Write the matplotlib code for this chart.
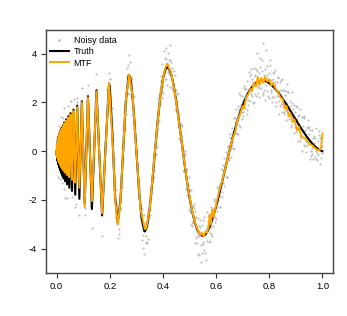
import matplotlib
matplotlib.use("Agg")
import matplotlib.pyplot as plt

plt.rcParams["font.family"] = ["Liberation Sans", "DejaVu Sans"]
plt.rcParams["axes.unicode_minus"] = False

# noisy observations, fast-oscillating part (x < 0.2)
noisy_x_left = [
    0.0, .0012, .0025, .0032, .0046, .006, .0075, .0092, .0109, .0127, .0146, .0167,
    .0189, .02, .0206, .0212, .0218, .0237, .0243, .0257, .0264, .0285, .0293, .0316,
    .0324, .034, .0349, .0357, .0384, .0394, .0413, .0423, .0433, .0466, .0477, .05,
    .0512, .0524, .053, .0564, .0577, .0605, .062, .0635, .064, .0683, .07, .071,
    .0735, .0754, .0773, .078, .0834, .0855, .086, .09, .0924, .0948, .096, .1028,
    .1056, .107, .1115, .1147, .118, .119, .123, .1288, .1326, .134, .138, .1409,
    .1454, .15, .151, .156, .16, .1655, .1711, .172, .178, .1833, .1902, .196, .1971,
]
noisy_y_left = [
    0.3, -0.45, 0.6, -0.29, 0.17, -1.04, 1.05, -0.47, 0.08, -1.13, 1.39, -0.75,
    0.55, 0.7, -1.0, -0.51, -1.3, 1.36, 0.55, -0.14, -1.57, 0.93, 1.78, -1.13,
    -1.94, -0.55, 1.32, 0.95, -0.76, -1.91, 0.45, 1.85, 1.48, -1.5, -1.19, -0.3,
    0.9, 2.06, 2.05, -1.9, -1.48, 0.7, 1.6, 1.11, 2.15, -1.01, -2.29, -2.15,
    -0.6, 2.02, 1.72, 2.2, -1.78, -2.61, -1.6, 0.25, 1.8, 2.6, 1.55, -1.82,
    -2.35, -2.6, -0.45, 2.05, 1.76, 2.7, 0.6, -2.23, -3.17, -1.95, -0.8, 0.5,
    1.97, 3.15, 2.15, 0.8, -0.2, -2.16, -3.49, -2.2, -0.8, 0.35, 2.52, 2.23, 3.19,
]

# noisy observations, x >= 0.2 (first pass)
noisy_x_right = [
    .2000, .2025, .2050, .2075, .2100, .2125, .2150, .2175, .2200, .2225, .2250, .2275,
    .2300, .2325, .2350, .2375, .2400, .2425, .2450, .2475, .2500, .2525, .2550, .2575,
    .2600, .2625, .2650, .2675, .2700, .2725, .2750, .2775, .2800, .2825, .2850, .2875,
    .2900, .2925, .2950, .2975, .3000, .3025, .3050, .3075, .3100, .3125, .3150, .3175,
    .3200, .3225, .3250, .3275, .3300, .3325, .3350, .3375, .3400, .3425, .3450, .3475,
    .3500, .3525, .3550, .3575, .3600, .3625, .3650, .3675, .3700, .3725, .3750, .3775,
    .3800, .3825, .3850, .3875, .3900, .3925, .3950, .3975, .4000, .4025, .4050, .4075,
    .4100, .4125, .4150, .4175, .4200, .4225, .4250, .4275, .4300, .4325, .4350, .4375,
    .4400, .4425, .4450, .4475, .4500, .4525, .4550, .4575, .4600, .4625, .4650, .4675,
    .4700, .4725, .4750, .4775, .4800, .4825, .4850, .4875, .4900, .4925, .4950, .4975,
    .5000, .5025, .5050, .5075, .5100, .5125, .5150, .5175, .5200, .5225, .5250, .5275,
    .5300, .5325, .5350, .5375, .5400, .5425, .5450, .5475, .5500, .5525, .5550, .5575,
    .5600, .5625, .5650, .5675, .5700, .5725, .5750, .5775, .5800, .5825, .5850, .5875,
    .5900, .5925, .5950, .5975, .6000, .6025, .6050, .6075, .6100, .6125, .6150, .6175,
    .6200, .6225, .6250, .6275, .6300, .6325, .6350, .6375, .6400, .6425, .6450, .6475,
    .6500, .6525, .6550, .6575, .6600, .6625, .6650, .6675, .6700, .6725, .6750, .6775,
    .6800, .6825, .6850, .6875, .6900, .6925, .6950, .6975, .7000, .7025, .7050, .7075,
    .7100, .7125, .7150, .7175, .7200, .7225, .7250, .7275, .7300, .7325, .7350, .7375,
    .7400, .7425, .7450, .7475, .7500, .7525, .7550, .7575, .7600, .7625, .7650, .7675,
    .7700, .7725, .7750, .7775, .7800, .7825, .7850, .7875, .7900, .7925, .7950, .7975,
    .8000, .8025, .8050, .8075, .8100, .8125, .8150, .8175, .8200, .8225, .8250, .8275,
    .8300, .8325, .8350, .8375, .8400, .8425, .8450, .8475, .8500, .8525, .8550, .8575,
    .8600, .8625, .8650, .8675, .8700, .8725, .8750, .8775, .8800, .8825, .8850, .8875,
    .8900, .8925, .8950, .8975, .9000, .9025, .9050, .9075, .9100, .9125, .9150, .9175,
    .9200, .9225, .9250, .9275, .9300, .9325, .9350, .9375, .9400, .9425, .9450, .9475,
    .9500, .9525, .9550, .9575, .9600, .9625, .9650, .9675, .9700, .9725, .9750, .9775,
    .9800, .9825, .9850, .9875, .9900, .9925, .9950, .9975, 1.0,
]
noisy_y_right = [
    2.96, 1.67, 1.77, 1.78, 0.48, 0.44, -1.29, -1.03, -1.76, -2.53, -1.61, -2.98,
    -3.55, -2.53, -3.41, -1.98, -1.56, -1.65, -1.48, 0.18, -0.30, 0.65, 1.60, 0.95,
    2.35, 2.06, 3.43, 2.39, 3.55, 2.35, 3.01, 3.66, 2.61, 2.96, 1.47, 2.17,
    2.27, 0.90, 0.94, -0.08, 0.45, -0.56, -0.51, -1.92, -1.42, -2.46, -1.55, -2.59,
    -3.63, -2.61, -3.43, -2.61, -4.23, -3.14, -3.49, -3.75, -2.70, -3.62, -2.48, -2.75,
    -1.76, -2.39, -1.86, -1.19, -1.71, -0.45, -0.83, -0.17, 0.55, -0.10, 0.81, 0.16,
    1.51, 2.17, 1.23, 2.03, 1.89, 2.87, 2.46, 3.59, 2.37, 3.32, 4.12, 2.97,
    3.77, 2.94, 3.56, 4.02, 3.24, 3.73, 2.62, 4.36, 3.30, 2.59, 3.42, 2.61,
    3.29, 2.47, 1.75, 2.52, 1.65, 2.05, 2.36, 1.16, 1.51, 0.50, 0.94, 1.13,
    0.27, 0.61, -0.80, 0.00, -0.76, 0.00, -0.85, -1.50, -0.75, -1.62, -1.40, -2.42,
    -1.59, -2.49, -1.58, -2.43, -3.07, -2.24, -2.90, -2.32, -2.73, -3.76, -2.69, -3.47,
    -3.75, -2.75, -3.49, -4.24, -3.13, -3.84, -4.56, -3.02, -3.73, -2.82, -4.05, -3.34,
    -4.17, -3.18, -3.69, -2.49, -2.85, -3.74, -3.07, -3.36, -2.29, -3.11, -3.48, -2.39,
    -3.06, -2.06, -2.32, -2.92, -2.02, -2.46, -1.46, -2.05, -2.29, -1.38, -1.82, -0.75,
    -1.29, -1.88, -0.76, -1.30, -1.43, -0.61, -0.75, -0.03, -0.16, -1.05, 0.22, -0.27,
    -0.35, 0.71, 0.12, 0.58, 0.94, 0.14, 0.80, 0.10, 1.20, 0.75, 1.74, 0.69,
    1.28, 1.87, 1.06, 2.39, 0.98, 1.91, 1.59, 2.26, 2.09, 1.46, 2.67, 1.79,
    2.55, 2.11, 1.52, 2.87, 2.08, 3.23, 2.57, 2.07, 3.16, 2.35, 2.98, 1.97,
    2.85, 3.43, 2.35, 3.08, 2.25, 3.27, 4.03, 2.65, 3.21, 2.22, 3.47, 2.93,
    2.59, 3.74, 2.39, 4.44, 3.14, 2.08, 3.37, 2.71, 3.50, 2.48, 2.92, 2.20,
    3.19, 3.72, 2.50, 2.92, 2.00, 2.97, 3.20, 2.22, 2.74, 3.31, 2.03, 2.84,
    2.26, 3.03, 1.54, 2.46, 2.82, 1.93, 2.50, 1.61, 2.97, 1.98, 2.49, 1.59,
    2.30, 1.26, 2.47, 1.97, 1.43, 2.44, 1.54, 2.05, 1.85, 1.06, 2.41, 1.22,
    1.37, 1.88, 0.73, 1.59, 1.84, 0.90, 1.30, 0.41, 1.46, 0.87, 1.73, 0.53,
    0.64, 1.40, 0.01, 1.02, 1.38, 0.24, 0.85, 0.41, -0.03, 0.98, 0.45, 1.26,
    0.72, -0.31, 0.85, 0.02, 0.14, 0.86, -0.32, 0.35, 0.62, -0.25, 0.97, 0.00,
    -0.38, 0.40, -0.17, 0.66, 0.19, -0.52, 0.37, -0.09, 0.20,
]

# noisy observations, x >= 0.2 (interleaved second pass)
noisy_x_extra = [
    .20125, .20625, .21125, .21625, .22125, .22625, .23125, .23625, .24125, .24625,
    .25125, .25625, .26125, .26625, .27125, .27625, .28125, .28625, .29125, .29625,
    .30125, .30625, .31125, .31625, .32125, .32625, .33125, .33625, .34125, .34625,
    .35125, .35625, .36125, .36625, .37125, .37625, .38125, .38625, .39125, .39625,
    .40125, .40625, .41125, .41625, .42125, .42625, .43125, .43625, .44125, .44625,
    .45125, .45625, .46125, .46625, .47125, .47625, .48125, .48625, .49125, .49625,
    .50125, .50625, .51125, .51625, .52125, .52625, .53125, .53625, .54125, .54625,
    .55125, .55625, .56125, .56625, .57125, .57625, .58125, .58625, .59125, .59625,
    .60125, .60625, .61125, .61625, .62125, .62625, .63125, .63625, .64125, .64625,
    .65125, .65625, .66125, .66625, .67125, .67625, .68125, .68625, .69125, .69625,
    .70125, .70625, .71125, .71625, .72125, .72625, .73125, .73625, .74125, .74625,
    .75125, .75625, .76125, .76625, .77125, .77625, .78125, .78625, .79125, .79625,
    .80125, .80625, .81125, .81625, .82125, .82625, .83125, .83625, .84125, .84625,
    .85125, .85625, .86125, .86625, .87125, .87625, .88125, .88625, .89125, .89625,
    .90125, .90625, .91125, .91625, .92125, .92625, .93125, .93625, .94125, .94625,
    .95125, .95625, .96125, .96625, .97125, .97625, .98125, .98625, .99125, .99625,
]
noisy_y_extra = [
    2.96, 1.12, -0.09, -0.31, -2.70, -2.19, -2.44, -3.19, -2.35, -0.52,
    0.90, 0.85, 1.53, 3.11, 3.93, 2.73, 3.06, 1.47, 0.96, 1.18,
    0.00, -1.46, -1.17, -2.70, -2.39, -3.99, -2.96, -3.72, -3.76, -2.14,
    -2.62, -1.47, -0.55, -1.07, -0.15, 1.41, 0.89, 2.15, 3.08, 2.20,
    2.67, 3.82, 4.23, 2.71, 3.16, 3.74, 3.64, 2.51, 2.35, 3.11,
    2.40, 1.01, 0.56, 1.09, 1.02, -0.40, -0.11, -1.55, -1.79, -1.08,
    -1.61, -3.05, -2.93, -2.16, -2.47, -3.58, -4.22, -3.06, -2.84, -4.16,
    -3.82, -2.69, -4.45, -3.06, -2.67, -3.69, -3.40, -2.38, -1.96, -2.72,
    -2.77, -1.55, -1.48, -2.31, -1.68, -0.55, -0.27, -1.04, -1.05, 0.18,
    0.56, -0.22, 0.24, 1.35, 1.35, 0.74, 0.72, 1.75, 2.32, 1.32,
    1.62, 2.60, 2.53, 1.69, 1.90, 3.09, 3.38, 2.25, 2.01, 3.11,
    3.36, 2.39, 2.61, 3.83, 3.29, 2.29, 2.49, 4.17, 3.14, 2.26,
    3.53, 2.43, 2.24, 3.23, 2.82, 1.86, 2.99, 2.07, 1.85, 2.93,
    2.50, 1.52, 1.68, 2.74, 2.41, 1.32, 0.98, 1.99, 1.75, 1.01,
    0.77, 1.83, 1.49, 0.40, 0.67, 1.39, 1.46, 0.23, 0.25, 0.93,
    1.00, -0.21, -0.12, 0.56, 0.56, -0.34, -0.09, 0.82, 0.54, -0.28,
]

# true signal
truth_x = [
    0.0, .0006, .00122, .00185, .0025, .00316, .00385, .00455, .00526, .006, .00676,
    .00753, .00833, .00915, .01, .01087, .01176, .01269, .01364, .01462, .015625,
    .01667, .01774, .01885, .02, .02119, .02241, .02368, .025, .02636, .02778, .02925,
    .03077, .03235, .034, .03571, .0375, .03936, .0413, .04333, .04545, .0477, .05,
    .0524, .055, .0577, .0605, .0635, .0667, .07, .0735, .0773, .08125, .0855, .09,
    .0948, .10, .1056, .1115, .118, .125, .1326, .1409, .15, .16, .1711, .1833, .1971,
    .20, .21, .2125, .22, .23, .24, .25, .26, .27, .2731, .28, .29, .30, .31, .32, .33,
    .3318, .34, .35, .36, .37, .38, .39, .40, .41, .4167, .42, .43, .44, .45, .46, .47,
    .48, .49, .50, .51, .52, .53, .54, .55, .56, .57, .58, .59, .60, .61, .62, .63,
    .64, .65, .66, .67, .68, .69, .70, .71, .72, .73, .74, .75, .76, .77, .78, .79,
    .80, .81, .82, .83, .84, .85, .86, .87, .88, .89, .90, .91, .92, .93, .94, .95,
    .96, .97, .98, .99, 1.0,
]
truth_y = [
    0.0, -0.171, 0.0, 0.301, 0.0, -0.393, 0.0, 0.471, 0.0, -0.541, 0.0,
    0.605, 0.0, -0.667, 0.0, 0.726, 0.0, -0.784, 0.0, 0.840, 0.0,
    -0.896, 0.0, 0.952, 0.0, -1.008, 0.0, 1.064, 0.0, -1.121, 0.0, 1.180,
    0.0, -1.238, 0.0, 1.299, 0.0, -1.361, 0.0, 1.425, 0.0, -1.492, 0.0,
    1.560, 0.0, -1.632, 0.0, 1.707, 0.0, -1.786, 0.0, 1.870, 0.0, -1.957, 0.0,
    2.050, 0.0, -2.151, 0.0, 2.258, 0.0, -2.374, 0.0, 2.500, 0.0, -2.636, 0.0, 2.785,
    2.663, 0.683, 0.0, -1.864, -2.946, -2.056, 0.0, 2.000, 3.048, 3.119, 2.859, 1.672, 0.0, -1.619, -2.782, -3.280,
    -3.296, -3.100, -2.361, -1.256, 0.0, 1.212, 2.235, 2.970, 3.371, 3.451, 3.437, 3.202, 2.738, 2.047, 1.260, 0.421,
    -0.414, -1.197, -1.892, -2.474, -2.927, -3.246, -3.428, -3.482, -3.419, -3.250, -2.992, -2.660, -2.272, -1.844, -1.393, -0.926,
    -0.456, 0.0, 0.439, 0.852, 1.234, 1.579, 1.886, 2.150, 2.376, 2.558, 2.698, 2.800, 2.864, 2.891, 2.887, 2.851,
    2.788, 2.700, 2.591, 2.463, 2.320, 2.165, 1.999, 1.827, 1.648, 1.468, 1.290, 1.113, 0.940, 0.775, 0.617, 0.471,
    0.338, 0.220, 0.119, 0.042, 0.0,
]

# MTF estimate
mtf_x = [
    0.0, .0006, .00122, .00185, .0025, .00316, .00385, .00455, .00526, .006, .00676,
    .00753, .00833, .00915, .01, .01087, .01176, .01269, .01364, .01462, .015625,
    .01667, .01774, .01885, .02, .02119, .02241, .02368, .025, .02636, .02778, .02925,
    .03077, .03235, .034, .03571, .0375, .03936, .0413, .04333, .04545, .0477, .05,
    .0524, .055, .0577, .0605, .0635, .0667, .07, .0735, .0773, .08125, .0855, .09,
    .0948, .10, .1056, .1115, .118, .125, .1326, .1409, .15, .16, .1711, .1833, .1971,
    .2125, .221, .23, .2397, .25, .2611, .2731, .286, .30, .3152, .3318, .337, .35, .37,
    .3808, .3921, .4041, .41, .4167, .423, .43, .4441, .4591, .475, .492, .51, .52, .53,
    .54, .547, .553, .56, .566, .572, .576, .58, .586, .59, .596, .61, .622, .636, .65,
    .66, .672, .68, .69, .70, .705, .713, .722, .73, .735, .742, .75, .757, .763, .77,
    .778, .785, .792, .80, .808, .815, .825, .834, .842, .85, .858, .865, .873, .88,
    .888, .895, .905, .912, .92, .93, .938, .95, .96, .97, .98, .99, .995, 1.0,
]
mtf_y = [
    0.25, -0.12, 0.1, 0.3, 0.05, -0.28, 0.02, 0.46, 0.02, -0.39, 0.05,
    0.59, 0.02, -0.48, 0.02, 0.7, 0.02, -0.56, 0.02, 0.82, 0.02,
    -0.65, 0.02, 0.92, 0.02, -0.73, 0.02, 1.03, 0.02, -0.81, 0.02, 1.15,
    0.02, -0.89, 0.02, 1.26, 0.02, -0.98, 0.02, 1.38, 0.02, -1.07, 0.02,
    1.5, 0.02, -1.18, 0.02, 1.65, 0.0, -1.29, 0.0, 1.8, 0.0, -1.5, 0.0,
    2.0, 0.0, -2.3, 0.0, 2.2, 0.0, -2.05, 0.0, 2.45, 0.0, -2.55, 0.0, 2.8,
    0.0, -2.1, -3.0, -2.15, 0.0, 2.2, 3.15, 2.25, 0.0, -2.35, -3.2, -3.15, -2.4, 0.0,
    1.3, 2.45, 3.2, 3.45, 3.6, 3.4, 3.25, 2.45, 1.3, 0.0, -1.35, -2.45, -2.9, -3.2,
    -3.45, -3.35, -3.5, -3.3, -3.35, -3.1, -2.6, -3.0, -2.4, -2.7, -2.4, -1.7, -1.25, -0.65, 0.0,
    0.45, 0.8, 1.25, 1.5, 1.85, 1.75, 2.2, 2.35, 2.55, 2.45, 2.8, 2.65, 3.05, 2.7, 3.0,
    2.8, 3.05, 2.85, 2.95, 2.7, 2.8, 2.55, 2.4, 2.2, 2.15, 1.75, 1.85, 1.45, 1.55,
    1.2, 1.3, 0.85, 1.0, 0.6, 0.55, 0.5, 0.3, 0.25, 0.15, 0.05, 0.05, 0.1, 0.72,
]

fig = plt.figure(figsize=(3.47, 3.16), dpi=100)
ax = fig.add_axes([0.1326, 0.136, 0.827, 0.769])

ax.plot(noisy_x_left + noisy_x_right + noisy_x_extra,
        noisy_y_left + noisy_y_right + noisy_y_extra, "o", ms=1.5,
        color="#bcbcbc", mec="none", label="Noisy data")
ax.plot(truth_x, truth_y, color="black", lw=1.5, label="Truth")
ax.plot(mtf_x, mtf_y, color="#FFA500", lw=1.4, label="MTF")

ax.set_xlim(-0.04, 1.04)
ax.set_ylim(-5.0, 4.97)
ax.set_xticks([0.0, 0.2, 0.4, 0.6, 0.8, 1.0])
ax.set_yticks([-4, -2, 0, 2, 4])
ax.tick_params(labelsize=6.8, length=3.5, width=0.8, color="#333333", pad=3)
for s in ax.spines.values():
    s.set_color("#444444")
    s.set_linewidth(1.0)

leg = ax.legend(loc="upper left", bbox_to_anchor=(0.0, 0.99), borderaxespad=0,
                frameon=False, fontsize=6.5, handlelength=2.1, handletextpad=0.55,
                labelspacing=0.25, markerscale=1.3)

fig.savefig("out.png", dpi=100)
